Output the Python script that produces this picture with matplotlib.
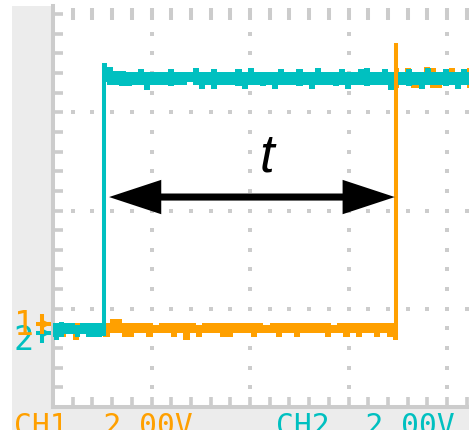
import numpy as np
import matplotlib.pyplot as plt
from matplotlib.patches import Rectangle

# scope colours
cyan = '#00c0c0'
orange = '#ffa000'
grid_gray = '#cccccc'
panel_gray = '#ececec'

# trace data, in screen divisions (2.00 V/div on both channels)
cyan_edge = 0.52      # CH2 rising edge
orange_edge = 3.48    # CH1 rising edge
cyan_peak = 3.50
orange_peak = 3.70

# CH2 (cyan) envelope, low part then high part
cyan_low_hi = [0.86, 0.86, 0.87, 0.86, 0.86, 0.83, 0.86, 0.86, 0.86, 0.86, 0.86]
cyan_low_lo = [0.71, 0.68, 0.71, 0.74, 0.74, 0.71, 0.74, 0.71, 0.71, 0.71, 0.72]
cyan_high_hi = [
    3.50, 3.46, 3.42, 3.42, 3.41, 3.41, 3.44, 3.41, 3.41, 3.41,
    3.41, 3.44, 3.41, 3.41, 3.41, 3.45, 3.41, 3.41, 3.44, 3.41,
    3.41, 3.41, 3.44, 3.41, 3.45, 3.41, 3.41, 3.41, 3.41, 3.44,
    3.41, 3.41, 3.44, 3.41, 3.41, 3.45, 3.41, 3.41, 3.41, 3.44,
    3.41, 3.41, 3.44, 3.45, 3.41, 3.41, 3.44, 3.41, 3.41, 3.41,
    3.44, 3.41, 3.41, 3.45, 3.41, 3.41, 3.44, 3.41, 3.41, 3.44,
    3.41, 3.41]
cyan_high_lo = [
    3.31, 3.28, 3.28, 3.27, 3.27, 3.28, 3.28, 3.23, 3.28, 3.28,
    3.28, 3.27, 3.28, 3.28, 3.31, 3.28, 3.24, 3.28, 3.24, 3.28,
    3.28, 3.28, 3.27, 3.24, 3.28, 3.28, 3.27, 3.28, 3.24, 3.28,
    3.28, 3.28, 3.27, 3.28, 3.24, 3.28, 3.28, 3.28, 3.27, 3.28,
    3.24, 3.28, 3.28, 3.27, 3.28, 3.28, 3.28, 3.23, 3.28, 3.28,
    3.27, 3.28, 3.24, 3.28, 3.28, 3.28, 3.27, 3.28, 3.24, 3.28,
    3.28, 3.28]

# CH1 (orange) envelope
orange_low_hi = [
    0.86, 0.86, 0.86, 0.86, 0.86, 0.86, 0.86, 0.86, 0.86, 0.86,
    0.90, 0.90, 0.86, 0.86, 0.86, 0.86, 0.86, 0.83, 0.86, 0.86,
    0.86, 0.86, 0.86, 0.86, 0.83, 0.86, 0.86, 0.86, 0.86, 0.86,
    0.86, 0.86, 0.86, 0.86, 0.86, 0.83, 0.86, 0.86, 0.86, 0.86,
    0.86, 0.86, 0.86, 0.86, 0.86, 0.86, 0.83, 0.86, 0.86, 0.86,
    0.86, 0.86, 0.86, 0.86, 0.86, 0.86, 0.86]
orange_low_lo = [
    0.75, 0.73, 0.71, 0.75, 0.68, 0.75, 0.75, 0.71, 0.75, 0.71,
    0.75, 0.75, 0.71, 0.71, 0.75, 0.75, 0.71, 0.75, 0.75, 0.75,
    0.71, 0.75, 0.68, 0.75, 0.71, 0.75, 0.75, 0.75, 0.71, 0.71,
    0.75, 0.75, 0.75, 0.71, 0.75, 0.75, 0.75, 0.71, 0.75, 0.75,
    0.71, 0.75, 0.75, 0.75, 0.75, 0.71, 0.75, 0.75, 0.71, 0.75,
    0.71, 0.75, 0.75, 0.71, 0.75, 0.71, 0.68]
orange_high_hi = [3.45, 3.41, 3.45, 3.41, 3.41, 3.46, 3.45, 3.41, 3.41, 3.45, 3.41, 3.41, 3.45, 3.41]
orange_high_lo = [3.25, 3.28, 3.28, 3.25, 3.25, 3.28, 3.25, 3.25, 3.28, 3.28, 3.25, 3.28, 3.25, 3.25]

labels = ['CH1  2.00V', 'CH2  2.00V']

# screen geometry (px)
W, H = 469, 431
px_div_x, px_div_y = 98.5, 98.25
ax_left, ax_right, ax_top, ax_bottom = 53, 469, 7, 408

fig = plt.figure(figsize=(W / 100, H / 100), dpi=100)

# grey side / bottom panels, drawn in pixel coords
bg = fig.add_axes([0, 0, 1, 1], zorder=0)
bg.set_xlim(0, W)
bg.set_ylim(H, 0)
bg.axis('off')
bg.add_patch(Rectangle((12, ax_top), ax_left - 12, H - ax_top, color=panel_gray, lw=0))
bg.add_patch(Rectangle((12, ax_bottom), W - 12, H - ax_bottom, color=panel_gray, lw=0))

# channel labels along the bottom (cut by the figure edge)
bg.text(14, 435, labels[0], color=orange, family='DejaVu Sans Mono', fontsize=21.3, va='baseline')
bg.text(276, 435, labels[1], color=cyan, family='DejaVu Sans Mono', fontsize=21.3, va='baseline')

# ground markers
for num, col, yc, ybase in [('2', cyan, 334, 350), ('1', orange, 325, 335)]:
    bg.text(14, ybase, num, color=col, family='DejaVu Sans Mono', fontsize=24, va='baseline')
    bg.plot([36, 52], [yc, yc], color=col, lw=2.9, solid_capstyle='butt')
    bg.plot([42, 42], [yc - 10, yc + 10], color=col, lw=2.9, solid_capstyle='butt')
    bg.plot([45.5], [yc], marker='>', color=col, markersize=7, mew=0)

# main screen
ax = fig.add_axes([ax_left / W, (H - ax_bottom) / H, (ax_right - ax_left) / W,
                   (ax_bottom - ax_top) / H], zorder=1)
ax.patch.set_alpha(0)
ax.set_xlim(0, (ax_right - ax_left) / px_div_x)
ax.set_ylim(0, (ax_bottom - ax_top) / px_div_y)
for s in ['top', 'right']:
    ax.spines[s].set_visible(False)
for s in ['left', 'bottom']:
    ax.spines[s].set_color(grid_gray)
    ax.spines[s].set_linewidth(2.9)
ax.set_xticks(np.arange(0.2, 4.21, 0.2))
ax.set_yticks(np.arange(0.2, 4.01, 0.2))
ax.tick_params(direction='in', length=7, width=2.6, color=grid_gray,
               labelbottom=False, labelleft=False)

# dotted graticule
minor = np.arange(0.2, 4.3, 0.2)
for gx in [1, 2, 3, 4]:
    ys = minor[minor < 3.9]
    ax.scatter(np.full(len(ys), gx), ys, marker='s', s=8.3, color=grid_gray, lw=0, zorder=1)
for gy in [1, 2, 3]:
    ax.scatter(minor, np.full(len(minor), gy), marker='s', s=8.3, color=grid_gray, lw=0, zorder=1)
ax.vlines(minor, 4 - 0.056, 4 + 0.056, color=grid_gray, lw=2.9, zorder=1)

xmax = 4.3

def draw_trace(edge, low_hi, low_lo, high_hi, high_lo, col, z):
    xl = np.linspace(-0.02, edge, len(low_hi))
    xh = np.linspace(edge, xmax, len(high_hi))
    ax.fill_between(xl, low_lo, low_hi, step='mid', color=col, lw=0, zorder=z)
    ax.fill_between(xh, high_lo, high_hi, step='mid', color=col, lw=0, zorder=z)

draw_trace(orange_edge, orange_low_hi, orange_low_lo, orange_high_hi, orange_high_lo, orange, 2)
draw_trace(cyan_edge, cyan_low_hi, cyan_low_lo, cyan_high_hi, cyan_high_lo, cyan, 3)
ax.plot([cyan_edge, cyan_edge], [cyan_low_lo[-1], cyan_peak], color=cyan, lw=2.9,
        solid_capstyle='butt', zorder=3)
ax.plot([orange_edge, orange_edge], [orange_low_lo[-1], orange_peak], color=orange, lw=2.9,
        solid_capstyle='butt', zorder=4)

# double arrow marking t
x0, x1, ya = 0.569, 3.47, 2.137
hl, hw, sw = 0.53, 0.175, 0.036
ax.fill([x0, x0 + hl, x0 + hl, x1 - hl, x1 - hl, x1, x1 - hl, x1 - hl, x0 + hl, x0 + hl],
        [ya, ya + hw, ya + sw, ya + sw, ya + hw, ya, ya - hw, ya - sw, ya - sw, ya - hw],
        color='black', lw=0, zorder=5)
ax.text(2.17, 2.405, 't', fontstyle='italic', family='Liberation Sans', fontsize=38,
        ha='center', va='baseline', zorder=5)

fig.savefig('out.png', dpi=100)
